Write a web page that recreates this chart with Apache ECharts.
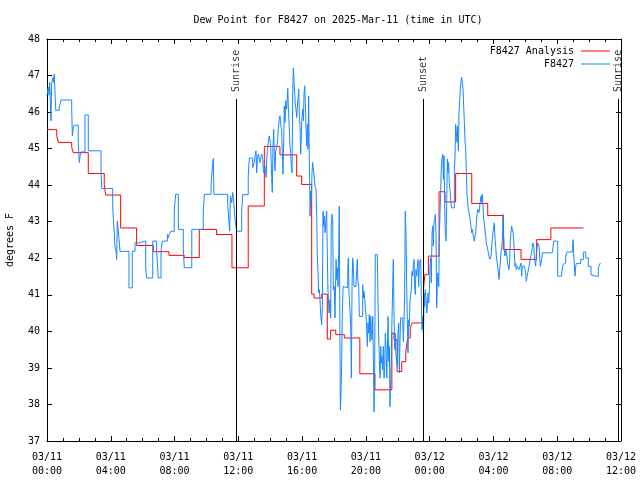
<!DOCTYPE html>
<html><head><meta charset="utf-8">
<script src="https://cdn.jsdelivr.net/npm/echarts@6/dist/echarts.min.js"></script>
<style>html,body{margin:0;padding:0;background:#fff}#c{width:640px;height:480px}</style>
</head><body><div id="c"></div>
<script>
const titleText = 'Dew Point for F8427 on 2025-Mar-11 (time in UTC)';
const yName = 'degrees F';
const seriesNames = ['F8427 Analysis', 'F8427'];
const xTickLabels = ['03/11\n00:00','03/11\n04:00','03/11\n08:00','03/11\n12:00','03/11\n16:00','03/11\n20:00','03/12\n00:00','03/12\n04:00','03/12\n08:00','03/12\n12:00'];
// hours since 03/11 00:00 UTC
const sunEvents = [[11.90,'Sunrise'],[23.61,'Sunset'],[35.85,'Sunrise']];
// [hours, degF]
const analysis = [[0,45.52],[0.61,45.35],[0.71,45.17],[1.55,45.03],[1.65,44.89],[2.59,44.32],[3.59,44.02],[3.68,43.73],[4.62,42.83],[5.62,42.35],[6.67,42.18],[7.65,42.08],[8.61,42.02],[9.55,42.79],[10.64,42.65],[11.60,41.74],[12.62,43.43],[13.63,45.06],[14.61,44.83],[15.66,44.25],[15.97,44.02],[16.60,41.02],[16.75,40.91],[17.23,41.02],[17.58,39.79],[17.79,40.03],[18.11,39.91],[18.65,39.82],[19.62,38.84],[20.57,38.40],[21.63,39.95],[21.77,39.77],[21.96,38.90],[22.25,39.17],[22.50,39.42],[22.62,39.82],[22.78,40.09],[22.90,40.23],[23.62,41.19],[23.70,41.55],[23.92,42.06],[24.59,43.82],[24.96,43.54],[25.63,44.32],[26.64,43.50],[27.64,43.17],[28.62,42.24],[29.73,41.97],[30.71,42.51],[31.60,42.83],[33.64,42.83]];
const observed = [[0.00,46.46],[0.08,46.68],[0.13,46.46],[0.17,46.81],[0.25,45.76],[0.29,46.77],[0.38,46.95],[0.42,46.81],[0.46,47.04],[0.50,46.54],[0.55,46.05],[0.77,46.17],[0.83,46.24],[0.88,46.33],[1.55,46.08],[1.59,45.35],[1.65,45.55],[1.71,45.64],[1.96,45.12],[2.03,44.62],[2.07,44.80],[2.13,44.91],[2.38,45.92],[2.59,44.94],[3.39,44.34],[3.43,43.91],[4.12,43.43],[4.18,42.93],[4.22,42.70],[4.26,42.33],[4.33,42.19],[4.37,41.97],[4.41,43.02],[4.47,43.06],[4.52,42.51],[4.58,42.19],[5.14,41.19],[5.35,42.19],[5.52,42.42],[5.73,42.47],[6.19,41.74],[6.25,41.46],
[6.63,42.47],[6.88,42.19],[6.98,41.46],[7.15,42.19],[7.23,42.47],[7.55,42.65],[7.61,42.56],[7.67,42.65],[7.76,42.74],[7.98,43.29],[8.07,43.75],[8.24,42.79],[8.55,42.24],[8.61,41.74],[9.08,42.79],[9.80,43.29],[9.87,43.75],[10.29,44.02],[10.37,44.48],[10.43,44.73],[10.47,43.75],[11.33,43.52],[11.41,42.97],[11.46,42.74],[11.50,43.70],[11.58,43.52],[11.65,43.80],[11.73,43.43],[11.79,43.06],[11.90,42.74],[12.21,43.25],[12.27,43.74],[12.62,44.25],[12.69,44.74],
[12.90,44.48],[13.00,44.62],[13.05,44.80],[13.11,44.94],[13.15,44.34],[13.19,44.71],[13.25,44.85],[13.32,44.89],[13.36,44.62],[13.40,44.76],[13.47,44.85],[13.53,44.71],[13.57,44.43],[13.61,44.34],[13.67,44.52],[13.74,44.21],[13.78,44.71],[13.82,44.98],[13.88,45.17],[13.94,45.35],[13.99,45.21],[14.03,45.03],[14.09,44.21],[14.13,43.80],[14.17,45.03],[14.22,45.53],[14.26,44.80],[14.30,44.39],[14.34,44.94],[14.41,45.03],[14.47,45.26],[14.51,45.58],[14.57,45.81],[14.61,45.90],[14.66,45.67],[14.72,45.48],[14.76,44.89],[14.80,44.30],[14.85,45.26],[14.88,46.17],[14.93,45.72],[14.97,46.31],[15.03,46.08],[15.10,46.65],[15.13,46.22],[15.18,45.72],[15.24,45.07],[15.28,44.89],[15.32,44.52],[15.37,44.34],[15.41,46.54],[15.45,47.20],[15.49,46.90],[15.54,46.49],[15.57,46.22],[15.62,46.08],[15.66,45.85],[15.70,46.13],[15.74,46.35],[15.79,46.63],[15.82,46.03],[15.87,45.58],[15.91,44.85],[15.95,45.35],[15.99,45.85],[16.04,46.08],[16.08,45.76],[16.12,46.49],[16.16,46.72],[16.20,46.22],[16.24,45.62],[16.29,45.07],[16.33,45.67],[16.37,44.98],[16.41,46.44],[16.45,44.80],[16.50,43.15],[16.54,43.84],[16.58,43.61],[16.62,44.34],[16.66,44.62],[16.70,44.66],[16.75,44.25],[16.81,43.98],[16.87,43.89],[16.92,43.06],[16.95,42.15],[17.00,41.60],[17.04,41.05],[17.08,41.14],[17.12,40.87],[17.17,40.41],[17.23,40.18],[17.27,40.68],[17.31,43.29],[17.35,42.88],[17.39,43.15],[17.44,42.70],
[17.54,43.29],[17.58,42.15],[17.62,41.14],[17.69,40.50],[17.75,40.87],[17.79,40.37],[17.83,42.93],[17.88,43.20],[17.92,43.06],[17.96,41.14],[18.02,41.23],[18.06,40.37],[18.13,41.97],[18.17,41.42],[18.21,41.74],[18.25,41.23],[18.30,42.33],[18.33,43.43],[18.38,39.13],[18.40,37.85],[18.44,38.31],[18.48,39.13],[18.52,40.41],[18.57,41.23],[18.61,41.19],[18.86,41.60],[18.90,42.01],[18.94,41.05],[19.00,40.59],[19.05,40.14],[19.09,38.72],[19.13,41.23],[19.17,42.01],[19.21,41.83],[19.25,41.23],[19.38,41.33],[19.42,41.60],[19.46,41.97],[19.50,41.37],[19.55,41.23],[19.59,40.41],[19.80,41.28],[19.84,40.91],[19.88,41.10],[19.93,40.87],[19.96,40.64],[20.01,40.46],[20.05,40.05],[20.09,39.59],[20.13,40.23],[20.18,39.95],[20.21,40.46],[20.26,39.72],[20.30,40.41],[20.38,39.77],[20.43,40.41],[20.47,39.22],[20.51,37.80],[20.55,38.86],[20.59,42.10],[20.72,41.97],[20.76,40.87],[20.80,39.95],[20.84,39.22],[20.89,38.72],[20.93,39.59],[20.97,39.13],[21.01,39.31],[21.05,38.95],[21.09,39.59],[21.14,38.72],[21.18,39.04],[21.22,39.95],[21.26,39.59],[21.31,38.72],[21.34,39.31],[21.39,40.41],[21.43,39.18],[21.47,39.59],[21.51,37.94],[21.56,38.72],[21.59,39.22],[21.64,40.41],[21.68,41.19],[21.72,41.97],[21.76,40.59],[21.81,39.50],[21.85,39.95],[21.89,39.31],[21.93,39.18],[21.97,39.04],[22.01,39.95],[22.06,40.23],[22.10,38.86],[22.14,39.72],[22.18,40.37],[22.31,40.23],[22.35,39.72],[22.39,40.23],[22.43,40.96],[22.47,43.29],[22.52,42.60],[22.56,41.23],[22.60,40.32],[22.64,39.41],[22.69,40.32],[22.72,40.14],[22.77,40.87],[22.85,41.14],[22.89,41.64],[22.94,41.51],[22.97,41.78],[23.02,41.97],[23.06,41.23],[23.10,41.01],[23.14,41.69],[23.19,41.51],[23.23,41.78],[23.27,41.97],[23.31,41.23],[23.35,41.87],[23.44,41.97],[23.48,40.87],[23.52,40.05],[23.56,40.41],[23.60,39.95],
[23.65,41.05],[23.69,40.68],[23.73,41.14],[23.77,40.87],[23.82,40.50],[23.85,40.68],[23.90,41.05],[23.94,40.78],[23.98,41.14],[24.02,41.74],[24.07,42.01],[24.10,41.33],[24.15,42.70],[24.19,42.88],[24.23,42.33],[24.27,42.97],[24.32,43.06],[24.35,43.20],[24.40,42.70],[24.44,40.64],[24.48,41.33],[24.52,41.60],[24.57,41.23],[24.61,42.70],[24.65,43.25],[24.69,43.80],[24.73,44.52],[24.77,44.71],[24.82,44.85],[24.86,44.16],[24.90,44.80],[24.94,43.43],[24.98,42.70],[25.03,42.47],[25.07,43.61],[25.11,44.71],[25.15,44.34],[25.19,44.62],[25.23,44.07],[25.28,43.84],[25.36,43.38],[25.55,44.43],[25.59,44.80],[25.63,45.67],[25.67,45.62],[25.72,45.17],[25.76,45.62],[25.80,44.94],[25.84,45.99],[25.92,46.63],[25.97,46.86],[26.01,46.95],[26.05,46.99],[26.09,46.63],[26.13,46.22],[26.17,45.76],[26.22,45.17],[26.26,45.03],[26.30,44.34],[26.34,43.75],[26.39,43.70],[26.42,43.34],[26.47,43.25],[26.51,43.15],[26.55,43.02],[26.59,42.88],[26.63,42.70],[26.68,42.79],[26.72,42.65],[26.76,42.60],[26.80,42.47],[26.84,42.60],[26.89,42.70],[26.93,42.97],[26.97,43.20],[27.01,43.34],[27.05,43.29],[27.10,43.25],[27.14,43.43],[27.18,43.56],[27.22,43.70],[27.26,43.52],[27.30,43.75],[27.35,43.43],[27.39,43.06],[27.43,42.97],[27.47,42.74],[27.52,42.60],[27.55,42.42],[27.60,42.33],[27.64,42.24],[27.68,42.15],[27.72,42.06],[27.77,41.97],[27.85,42.06],[27.89,42.33],[27.93,42.51],[27.97,42.70],[28.01,42.83],[28.05,42.97],[28.10,42.51],[28.14,42.33],[28.18,42.06],[28.22,41.92],[28.26,41.78],[28.31,41.60],[28.35,41.42],[28.39,41.69],[28.43,41.87],[28.47,42.15],[28.52,42.33],[28.56,42.51],[28.60,43.20],[28.64,42.70],[28.68,42.24],[28.72,42.06],[28.77,42.24],[28.81,42.15],[28.85,42.06],[28.89,41.87],[28.93,41.78],[28.98,41.69],[29.02,41.97],[29.06,42.51],[29.10,42.70],[29.14,42.88],[29.18,42.83],[29.23,42.70],[29.27,42.51],[29.31,42.15],[29.35,41.78],[29.39,41.87],[29.44,41.69],[29.48,41.78],[29.60,41.69],[29.69,41.64],[29.73,41.87],[29.77,41.51],[29.81,41.78],[29.94,41.83],[29.98,41.69],[30.02,41.60],[30.06,41.37],[30.11,41.33],[30.15,41.60],[30.23,41.78],[30.31,41.97],[30.40,42.19],[30.48,42.42],[30.53,42.33],[30.56,42.06],[30.65,41.78],[30.69,42.15],[30.78,42.42],[30.86,42.33],[30.94,41.78],[31.03,41.97],[31.07,42.15],[31.69,42.19],[31.78,42.47],[32.03,41.51],[32.28,41.60],[32.36,41.83],[32.44,41.87],[32.53,42.06],[32.61,42.17],[32.95,42.24],[32.99,42.51],[33.03,42.15],[33.12,41.51],[33.16,41.78],[33.20,41.86],[33.47,41.97],[33.64,42.17],[33.79,42.01],[33.95,41.78],[34.12,41.55],[34.20,41.51],[34.42,41.51],[34.58,41.74],[34.70,41.87]];

const FONT = '"DejaVu Sans Mono", "Liberation Mono", monospace';
const X_MIN = 0, X_MAX = 36, X_STEP = 4, Y_MIN = 37, Y_MAX = 48, Y_STEP = 1;
const SUN_LINE_TOP = 46.36, SUN_LABEL_Y = 46.55;
const RED = '#ff0000', BLUE = '#1a88ff';
const txt = {fontFamily: FONT, fontSize: 10, color: '#000'};
const black = {color: '#000', width: 1};

function xAxisCfg(pos, showLabel) {
  return {
    type: 'value', position: pos, min: X_MIN, max: X_MAX, interval: X_STEP,
    axisLine: {show: true, onZero: false, lineStyle: black},
    axisTick: {show: true, inside: true, length: 5, lineStyle: black},
    minorTick: {show: true, splitNumber: 4, length: 3, lineStyle: black},
    splitLine: {show: false}, minorSplitLine: {show: false},
    axisLabel: showLabel ? Object.assign({show: true, margin: 9, lineHeight: 14,
      formatter: v => xTickLabels[Math.round((v - X_MIN) / X_STEP)]}, txt) : {show: false}
  };
}
function yAxisCfg(pos, showLabel) {
  const c = {
    type: 'value', position: pos, min: Y_MIN, max: Y_MAX, interval: Y_STEP,
    axisLine: {show: true, onZero: false, lineStyle: black},
    axisTick: {show: true, inside: true, length: 5, lineStyle: black},
    splitLine: {show: false},
    axisLabel: showLabel ? Object.assign({show: true, margin: 7}, txt) : {show: false}
  };
  if (showLabel) {
    c.name = yName; c.nameLocation = 'middle'; c.nameGap = 32;
    c.nameTextStyle = Object.assign({}, txt);
  }
  return c;
}
function legendCfg(name, top, color) {
  return {
    data: [{name: name, icon: 'rect', itemStyle: {color: color}}],
    orient: 'vertical', right: 30, top: top, padding: 0,
    align: 'right', itemWidth: 29, itemHeight: 1, selectedMode: false,
    textStyle: Object.assign({padding: [0, 2, 0, 0]}, txt)
  };
}

const chart = echarts.init(document.getElementById('c'), null, {renderer: 'canvas'});
chart.setOption({
  animation: false,
  backgroundColor: '#fff',
  textStyle: {fontFamily: FONT},
  title: {text: titleText, left: 333, top: 10, textAlign: 'center',
    textStyle: Object.assign({fontWeight: 'normal'}, txt)},
  legend: [legendCfg(seriesNames[0], 46, RED), legendCfg(seriesNames[1], 59, BLUE)],
  grid: {left: 47, right: 19, top: 39, bottom: 39, containLabel: false, outerBoundsMode: 'none'},
  xAxis: [xAxisCfg('bottom', true), xAxisCfg('top', false)],
  yAxis: [yAxisCfg('left', true), yAxisCfg('right', false)],
  series: [
    {
      name: 'sun', type: 'scatter', silent: true, symbolSize: 1,
      itemStyle: {color: 'rgba(0,0,0,0)'},
      data: sunEvents.map(s => [s[0], SUN_LABEL_Y, s[1]]),
      label: Object.assign({show: true, position: 'inside', rotate: 90, align: 'left',
        verticalAlign: 'middle', formatter: p => p.data[2]}, txt),
      markLine: {
        silent: true, symbol: ['none', 'none'], label: {show: false},
        lineStyle: {color: '#000', width: 1, type: 'solid'},
        data: sunEvents.map(s => [{coord: [s[0], Y_MIN]}, {coord: [s[0], SUN_LINE_TOP]}])
      }
    },
    {
      name: seriesNames[0], type: 'line', step: 'end', data: analysis,
      symbol: 'none', showSymbol: false, color: RED,
      lineStyle: {color: RED, width: 1}
    },
    {
      name: seriesNames[1], type: 'line', step: 'end', data: observed,
      symbol: 'none', showSymbol: false, color: BLUE,
      lineStyle: {color: BLUE, width: 1}
    }
  ]
});
</script>
</body></html>
